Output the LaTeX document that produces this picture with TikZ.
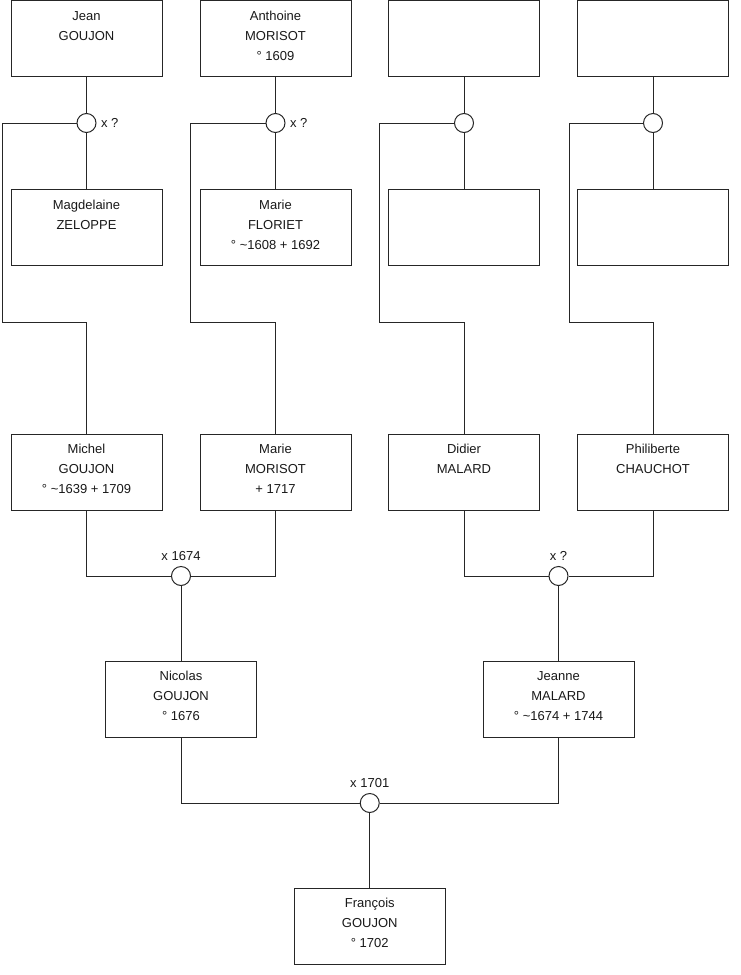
\documentclass[tikz,border=0pt]{standalone}
\usepackage{fontspec}
\setmainfont{Liberation Sans}
\newcommand\persontext[1]{\parbox[c][76pt][t]{151pt}{\centering\rule{0pt}{19.5pt}#1}}
\begin{document}
\begin{tikzpicture}[x=1pt,y=-1pt,line width=1pt,
  conn/.style={draw=black!85,line width=1pt},
  person/.style={draw=black!85,line width=1pt,inner sep=0pt,fill=white,text=black!90,
     font=\fontsize{13pt}{20pt}\selectfont},
  union/.style={circle,draw=black!85,line width=1pt,fill=white,minimum size=19pt,inner sep=0pt},
  ulabel/.style={inner sep=0pt,text=black!90,font=\fontsize{13pt}{16pt}\selectfont}
]
\useasboundingbox (0,0) rectangle (740,975);
% row 1
\node[person] (jean) at (86.5,38.5) {\persontext{Jean\\GOUJON}};
\node[person] (anthoine) at (275.5,38.5) {\persontext{Anthoine\\MORISOT\\° 1609}};
\node[person] (p3) at (464,38.5) {\persontext{}};
\node[person] (p4) at (653,38.5) {\persontext{}};
% row 2
\node[person] (magd) at (86.5,227.5) {\persontext{Magdelaine\\ZELOPPE}};
\node[person] (floriet) at (275.5,227.5) {\persontext{Marie\\FLORIET\\° \textasciitilde 1608 + 1692}};
\node[person] (p7) at (464,227.5) {\persontext{}};
\node[person] (p8) at (653,227.5) {\persontext{}};
% row 3
\node[person] (michel) at (86.5,472) {\persontext{Michel\\GOUJON\\° \textasciitilde 1639 + 1709}};
\node[person] (mariem) at (275.5,472) {\persontext{Marie\\MORISOT\\+ 1717}};
\node[person] (didier) at (464,472) {\persontext{Didier\\MALARD}};
\node[person] (phil) at (653,472) {\persontext{Philiberte\\CHAUCHOT}};
% row 4
\node[person] (nicolas) at (181,699) {\persontext{Nicolas\\GOUJON\\° 1676}};
\node[person] (jeanne) at (558.5,699) {\persontext{Jeanne\\MALARD\\° \textasciitilde 1674 + 1744}};
% row 5
\node[person] (francois) at (369.75,926) {\persontext{François\\GOUJON\\° 1702}};
% unions
\node[union,label={[ulabel,label distance=4pt]right:x ?}] (u1) at (86.5,123) {};
\node[union,label={[ulabel,label distance=4pt]right:x ?}] (u2) at (275.5,123) {};
\node[union] (u3) at (464,123) {};
\node[union] (u4) at (653,123) {};
\node[union,label={[ulabel,label distance=5pt]above:x 1674}] (u5) at (181,576) {};
\node[union,label={[ulabel,label distance=5pt]above:x ?}] (u6) at (558.5,576) {};
\node[union,label={[ulabel,label distance=5pt]above:x 1701}] (u7) at (369.75,803) {};
% bend points
\coordinate (b1) at (2,322);
\coordinate (b2) at (190.5,322);
\coordinate (b3) at (379,322);
\coordinate (b4) at (569,322);
% connectors top
\draw[conn] (jean.south) -- (u1.north);
\draw[conn] (u1.south) -- (magd.north);
\draw[conn] (u1.west) -| (b1) -| (michel.north);
\draw[conn] (anthoine.south) -- (u2.north);
\draw[conn] (u2.south) -- (floriet.north);
\draw[conn] (u2.west) -| (b2) -| (mariem.north);
\draw[conn] (p3.south) -- (u3.north);
\draw[conn] (u3.south) -- (p7.north);
\draw[conn] (u3.west) -| (b3) -| (didier.north);
\draw[conn] (p4.south) -- (u4.north);
\draw[conn] (u4.south) -- (p8.north);
\draw[conn] (u4.west) -| (b4) -| (phil.north);
% connectors middle
\draw[conn] (michel.south) |- (u5.west);
\draw[conn] (mariem.south) |- (u5.east);
\draw[conn] (u5.south) -- (nicolas.north);
\draw[conn] (didier.south) |- (u6.west);
\draw[conn] (phil.south) |- (u6.east);
\draw[conn] (u6.south) -- (jeanne.north);
% bottom
\draw[conn] (nicolas.south) |- (u7.west);
\draw[conn] (jeanne.south) |- (u7.east);
\draw[conn] (u7.south) -- (francois.north);
\end{tikzpicture}
\end{document}
